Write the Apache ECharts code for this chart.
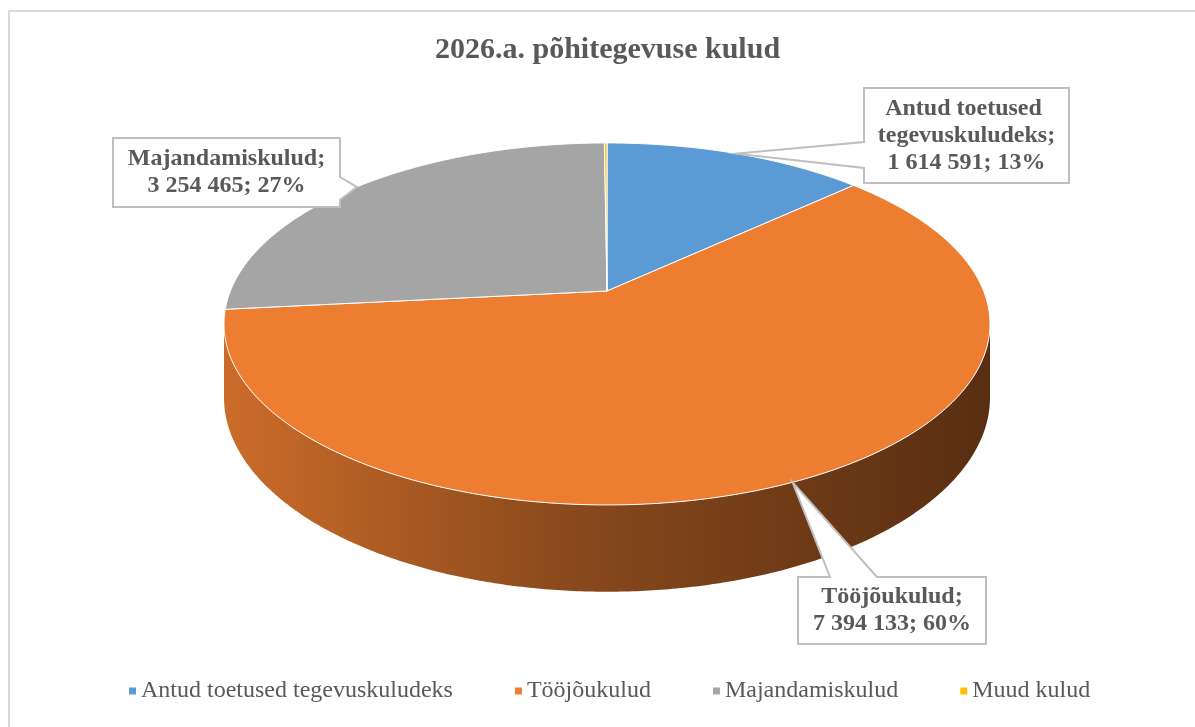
<!DOCTYPE html>
<html>
<head>
<meta charset="utf-8">
<title>2026.a. põhitegevuse kulud</title>
<script src="https://cdn.jsdelivr.net/npm/echarts@6/dist/echarts.min.js"></script>
<style>
html, body { margin: 0; padding: 0; background: #fff; overflow: hidden; }
#frame { position: absolute; left: 8px; top: 10px; width: 1300px; height: 800px; border: 2px solid #d9d9d9; }
#chart { position: absolute; left: 0; top: 0; width: 1195px; height: 727px; }
</style>
</head>
<body>
<div id="frame"></div>
<div id="chart"></div>
<script>
// data
const categories = ['Antud toetused tegevuskuludeks', 'Tööjõukulud', 'Majandamiskulud', 'Muud kulud']
const values = [1614591, 7394133, 3254465, 16000]
const colors = ['#5b9bd5', '#ed7d31', '#a5a5a5', '#ffc000']

const total = values.reduce((a, b) => a + b, 0)

// 3d pie look (perspective ellipse)
const pie = { cx: 607, cy: 291, R: 376.6, H: 175, D: 71, k: 0.182 }

// callout boxes (manual layout, like the excel file)
const labelBoxes = [
  { x: 864, y: 88, w: 205, h: 95, side: 'left', b1: 54, b2: 80 },
  { x: 798, y: 577, w: 188, h: 67, side: 'top', b1: 32, b2: 79 },
  { x: 113, y: 138, w: 227, h: 69, side: 'right', b1: 39, b2: 62 },
  null
]

const textColor = '#595959'
const serif = 'Liberation Serif'

function proj(deg, r, drop) {
  const a = deg * Math.PI / 180
  const c = Math.cos(a) * r
  const s = Math.sin(a) * r
  const p = 1 / (1 + pie.k * c)
  return [pie.cx + pie.R * s * p, pie.cy + (-pie.H * c + pie.D * drop) * p]
}

function arc(a, b, drop) {
  const pts = []
  const n = Math.max(2, Math.ceil(Math.abs(b - a) / 0.5))
  for (let j = 0; j <= n; j++) {
    pts.push(proj(a + (b - a) * j / n, 1, drop))
  }
  return pts
}

function shade(hex, f) {
  const n = parseInt(hex.slice(1), 16)
  const r = Math.round(((n >> 16) & 255) * f)
  const g = Math.round(((n >> 8) & 255) * f)
  const b = Math.round((n & 255) * f)
  return 'rgb(' + r + ',' + g + ',' + b + ')'
}

function fmt(v) {
  return String(v).replace(/\B(?=(\d{3})+(?!\d))/g, ' ')
}

function calloutPoints(box, tip) {
  const { x, y, w, h, b1, b2 } = box
  if (box.side === 'left') {
    return [[x, y], [x + w, y], [x + w, y + h], [x, y + h], [x, y + b2], tip, [x, y + b1]]
  }
  if (box.side === 'right') {
    return [[x, y], [x + w, y], [x + w, y + b1], tip, [x + w, y + b2], [x + w, y + h], [x, y + h]]
  }
  // top
  return [[x, y], [x + b1, y], tip, [x + b2, y], [x + w, y], [x + w, y + h], [x, y + h]]
}

// wall is seen only between the two silhouette points
const silhouette = Math.acos(-pie.k) * 180 / Math.PI

function renderSlice(params, api) {
  const i = params.seriesIndex
  const v = api.value(0)
  const start = values.slice(0, i).reduce((a, b) => a + b, 0) / total * 360
  const end = start + v / total * 360
  const color = colors[i]
  const children = []

  const ws = Math.max(start, silhouette)
  const we = Math.min(end, 360 - silhouette)
  if (we > ws) {
    const left = pie.cx - pie.R * 1.02
    const right = pie.cx + pie.R * 1.02
    const pts = arc(ws, we, 0).concat(arc(ws, we, 1).reverse())
    children.push({
      type: 'polygon',
      z2: 0,
      shape: { points: pts },
      style: {
        fill: new echarts.graphic.LinearGradient(left, 0, right, 0, [
          { offset: 0, color: shade(color, 0.86) },
          { offset: 0.45, color: shade(color, 0.58) },
          { offset: 1, color: shade(color, 0.37) }
        ], true),
        stroke: null
      }
    })
  }

  // top surface
  children.push({
    type: 'polygon',
    z2: 10,
    shape: { points: [[pie.cx, pie.cy]].concat(arc(start, end, 0)) },
    style: { fill: color, stroke: '#ffffff', lineWidth: 1, lineJoin: 'round' }
  })

  // callout label
  const box = labelBoxes[i]
  if (box) {
    const tip = proj((start + end) / 2, 1, 0)
    children.push({
      type: 'polygon',
      z2: 20,
      shape: { points: calloutPoints(box, tip) },
      style: { fill: '#ffffff', stroke: '#bfbfbf', lineWidth: 2, lineJoin: 'miter' }
    })
    const pct = Math.round(v / total * 100)
    children.push({
      type: 'text',
      z2: 21,
      x: box.x + box.w / 2,
      y: box.y + box.h / 2,
      style: {
        text: categories[i] + ';\n' + fmt(v) + '; ' + pct + '%',
        fill: textColor,
        font: 'bold 24px "' + serif + '"',
        align: 'center',
        verticalAlign: 'middle',
        lineHeight: 27,
        width: box.w - 8,
        overflow: 'break'
      }
    })
  }

  return { type: 'group', children: children }
}

const chart = echarts.init(document.getElementById('chart'), null, { renderer: 'canvas' })

chart.setOption({
  animation: false,
  backgroundColor: 'transparent',
  title: {
    text: '2026.a. põhitegevuse kulud',
    left: 430,
    top: 30,
    textStyle: {
      fontFamily: serif,
      fontWeight: 'bold',
      fontSize: 30,
      color: textColor
    }
  },
  legend: {
    data: categories,
    left: 124,
    top: 674,
    icon: 'rect',
    itemWidth: 7,
    itemHeight: 7,
    itemGap: 62,
    selectedMode: false,
    textStyle: {
      fontFamily: serif,
      fontSize: 24,
      color: textColor
    }
  },
  series: categories.map((name, i) => ({
    type: 'custom',
    name: name,
    coordinateSystem: 'none',
    itemStyle: { color: colors[i] },
    data: [[values[i]]],
    renderItem: renderSlice
  }))
})
</script>
</body>
</html>
